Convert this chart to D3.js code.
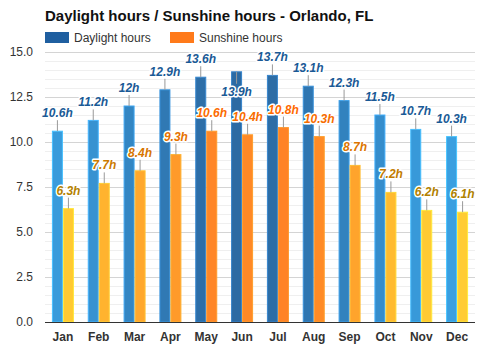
<!DOCTYPE html>
<html>
<head>
<meta charset="utf-8">
<script src="https://cdn.jsdelivr.net/npm/d3@7"></script>
<style>
  body { margin: 0; background: #fff; }
  text { font-family: "Liberation Sans", Arial, sans-serif; }
</style>
</head>
<body>
<div id="chart"></div>
<script>
const months = ["Jan", "Feb", "Mar", "Apr", "May", "Jun", "Jul", "Aug", "Sep", "Oct", "Nov", "Dec"]
const daylight = [10.6, 11.2, 12, 12.9, 13.6, 13.9, 13.7, 13.1, 12.3, 11.5, 10.7, 10.3]
const sunshine = [6.3, 7.7, 8.4, 9.3, 10.6, 10.4, 10.8, 10.3, 8.7, 7.2, 6.2, 6.1]
const yTicks = [0, 2.5, 5, 7.5, 10, 12.5, 15]
const seriesNames = ["Daylight hours", "Sunshine hours"]

const W = 500, H = 350
const margin = {top: 52, right: 25, bottom: 28, left: 45}

const svg = d3.select("#chart").append("svg")
    .attr("width", W)
    .attr("height", H)

const x = d3.scaleBand()
    .domain(months)
    .range([margin.left, W - margin.right])
    .paddingInner(0.386)
    .paddingOuter(0.193)

const xSub = d3.scaleBand()
    .domain(["d", "s"])
    .range([0, x.bandwidth()])

const y = d3.scaleLinear()
    .domain([0, 15])
    .range([H - margin.bottom, margin.top])

const dayColor = d3.scaleLinear().domain([10.3, 13.9]).range(["#3a9fe0", "#2c6aa3"]).clamp(true)
const sunColor = d3.scaleLinear().domain([6.1, 10.8]).range(["#ffcc33", "#ff8326"]).clamp(true)
const sunLabel = d3.scaleLinear().domain([6.1, 10.8]).range(["#b08200", "#ff6a00"]).clamp(true)

// minor grid
svg.append("g")
    .selectAll("line")
    .data(d3.range(0.5, 15, 0.5).filter(v => v % 2.5 != 0))
    .join("line")
    .attr("x1", margin.left).attr("x2", W - margin.right)
    .attr("y1", d => Math.round(y(d)) + 0.5).attr("y2", d => Math.round(y(d)) + 0.5)
    .attr("stroke", "#efefef")

// y axis + major grid
const yAxis = d3.axisLeft(y)
    .tickValues(yTicks)
    .tickFormat(d3.format(".1f"))
    .tickSize(-(W - margin.left - margin.right))
    .tickPadding(12)

svg.append("g")
    .attr("transform", `translate(${margin.left},0)`)
    .call(yAxis)
    .call(g => g.select(".domain").remove())
    .call(g => g.selectAll(".tick line").attr("stroke", "#d4d4d4"))
    .call(g => g.selectAll(".tick text").attr("fill", "#333").attr("font-size", 12).attr("font-family", "Liberation Sans, Arial"))

// bars
const groups = svg.append("g")
    .selectAll("g")
    .data(months.map((m, i) => ({m, d: daylight[i], s: sunshine[i]})))
    .join("g")
    .attr("transform", d => `translate(${x(d.m)},0)`)

groups.append("rect")
    .attr("x", xSub("d") + 0.5)
    .attr("y", d => y(d.d))
    .attr("width", xSub.bandwidth() - 1)
    .attr("height", d => y(0) - y(d.d))
    .attr("fill", d => dayColor(d.d))
    .attr("stroke", d => d3.color(dayColor(d.d)).brighter(0.6))
    .attr("stroke-width", 1)

groups.append("rect")
    .attr("x", xSub("s") + 0.5)
    .attr("y", d => y(d.s))
    .attr("width", xSub.bandwidth() - 1)
    .attr("height", d => y(0) - y(d.s))
    .attr("fill", d => sunColor(d.s))
    .attr("stroke", d => d3.color(sunColor(d.s)).brighter(0.4))
    .attr("stroke-width", 1)

// baseline
svg.append("line")
    .attr("x1", margin.left).attr("x2", W - margin.right)
    .attr("y1", y(0) + 0.5).attr("y2", y(0) + 0.5)
    .attr("stroke", "#333")

// value labels with leader lines
function addLabels(key, sub, colorFn) {
    const lab = groups.append("g")
        .attr("transform", d => `translate(${xSub(sub) + xSub.bandwidth() / 2},${y(d[key])})`)
    // flip the label below the bar top when it would hit the legend
    const flip = d => y(d[key]) - 20 < margin.top + 2
    lab.append("line")
        .attr("x1", 0).attr("x2", 0)
        .attr("y1", 0).attr("y2", d => flip(d) ? 12 : -11)
        .attr("stroke", "#999")
    lab.append("text")
        .attr("y", d => flip(d) ? 24 : -14)
        .attr("text-anchor", "middle")
        .attr("font-size", 12)
        .attr("font-weight", "bold")
        .attr("font-style", "italic")
        .attr("stroke", "#fff")
        .attr("stroke-width", 3)
        .attr("stroke-linejoin", "round")
        .attr("paint-order", "stroke")
        .attr("fill", d => colorFn(d[key]))
        .text(d => d[key] + "h")
}
addLabels("d", "d", () => "#1a5a96")
addLabels("s", "s", sunLabel)

// x labels
svg.append("g")
    .selectAll("text")
    .data(months)
    .join("text")
    .attr("x", d => x(d) + x.bandwidth() / 2)
    .attr("y", H - 9)
    .attr("text-anchor", "middle")
    .attr("font-size", 12)
    .attr("font-weight", "bold")
    .attr("fill", "#333")
    .text(d => d)

// title
svg.append("text")
    .attr("x", 45)
    .attr("y", 21)
    .attr("font-size", 15)
    .attr("font-weight", "bold")
    .attr("fill", "#111")
    .text("Daylight hours / Sunshine hours - Orlando, FL")

// legend
const legendColors = ["#1f5fa0", "#ff7a1a"]
const legendX = [45, 170]
const legend = svg.append("g")
    .selectAll("g")
    .data(seriesNames)
    .join("g")
    .attr("transform", (d, i) => `translate(${legendX[i]},32)`)
legend.append("rect")
    .attr("width", 24).attr("height", 11)
    .attr("fill", (d, i) => legendColors[i])
legend.append("text")
    .attr("x", 29).attr("y", 10)
    .attr("font-size", 12)
    .attr("fill", "#333")
    .text(d => d)
</script>
</body>
</html>
